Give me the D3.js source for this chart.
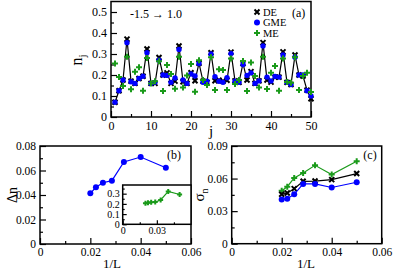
<!DOCTYPE html>
<html>
<head>
<meta charset="utf-8">
<script src="https://cdn.jsdelivr.net/npm/d3@7"></script>
<style>
  body { margin: 0; background: #fff; }
  svg { display: block; font-family: "Liberation Serif", "DejaVu Serif", serif; }
</style>
</head>
<body>
<svg id="chart" width="395" height="271"></svg>
<script>
"use strict";

/********/
/* data */
/********/

const sites = d3.range(1, 51);

const deValues = [
  0.07, 0.125, 0.176, 0.371, 0.171, 0.16, 0.183, 0.194, 0.324, 0.16,
  0.16, 0.283, 0.2, 0.21, 0.16, 0.171, 0.338, 0.168, 0.16, 0.211,
  0.173, 0.256, 0.17, 0.165, 0.306, 0.173, 0.175, 0.17, 0.175, 0.309,
  0.172, 0.165, 0.255, 0.176, 0.216, 0.16, 0.172, 0.354, 0.176, 0.166,
  0.19, 0.19, 0.31, 0.165, 0.155, 0.295, 0.2, 0.195, 0.128, 0.087,
];

const gmeValues = [
  0.07, 0.125, 0.176, 0.354, 0.168, 0.16, 0.183, 0.194, 0.306, 0.16,
  0.165, 0.27, 0.2, 0.198, 0.165, 0.186, 0.322, 0.176, 0.16, 0.205,
  0.195, 0.255, 0.165, 0.17, 0.3, 0.192, 0.17, 0.165, 0.187, 0.302,
  0.17, 0.165, 0.25, 0.198, 0.21, 0.16, 0.172, 0.338, 0.19, 0.172,
  0.193, 0.19, 0.295, 0.165, 0.155, 0.285, 0.2, 0.2, 0.125, 0.1,
];

const meValues = [
  0.255, 0.19, 0.148, 0.287, 0.132, 0.216, 0.237, 0.125, 0.281, 0.16,
  0.17, 0.265, 0.124, 0.248, 0.205, 0.135, 0.287, 0.14, 0.198, 0.252,
  0.12, 0.27, 0.176, 0.152, 0.284, 0.128, 0.227, 0.224, 0.128, 0.279,
  0.157, 0.176, 0.267, 0.124, 0.259, 0.195, 0.141, 0.287, 0.133, 0.211,
  0.243, 0.125, 0.278, 0.167, 0.163, 0.284, 0.128, 0.195, 0.211, 0.119,
];

const inverseL = [1 / 50, 1 / 45, 1 / 40, 1 / 35, 1 / 30, 1 / 25, 1 / 20];

const deltaN = [0.0414, 0.0463, 0.05, 0.0517, 0.067, 0.071, 0.0623];
const deltaNInset = [0.205, 0.21, 0.215, 0.218, 0.238, 0.322, 0.292];

const sigmaDE = [0.0455, 0.0467, 0.0507, 0.0575, 0.0577, 0.059, 0.0646];
const sigmaGME = [0.0408, 0.0415, 0.0455, 0.0551, 0.0551, 0.0518, 0.0566];
const sigmaME = [0.0487, 0.0525, 0.0606, 0.0652, 0.0722, 0.0637, 0.0759];

const legendLabels = ["DE", "GME", "ME"];

/********/
/* view */
/********/

const svg = d3.select("#chart");
const black = "#000000";
const blue = "#0000ff";
const green = "#1a9a1a";

function drawTicks(g, x, y, opts) {
  const xMajor = d3
    .axisBottom(x)
    .tickValues(opts.xMajor)
    .tickSize(-opts.major)
    .tickPadding(opts.pad)
    .tickFormat(opts.xFormat);
  const xMinor = d3
    .axisBottom(x)
    .tickValues(opts.xMinor)
    .tickSize(-opts.minor)
    .tickFormat("");
  const yMajor = d3
    .axisLeft(y)
    .tickValues(opts.yMajor)
    .tickSize(-opts.major)
    .tickPadding(opts.pad)
    .tickFormat(opts.yFormat);
  const yMinor = d3
    .axisLeft(y)
    .tickValues(opts.yMinor)
    .tickSize(-opts.minor)
    .tickFormat("");

  const bottom = y.range()[0];
  const left = x.range()[0];

  [xMinor, xMajor].forEach(axis => {
    g.append("g")
      .attr("transform", `translate(0,${bottom})`)
      .call(axis)
      .call(a => a.select(".domain").remove());
  });
  [yMinor, yMajor].forEach(axis => {
    g.append("g")
      .attr("transform", `translate(${left},0)`)
      .call(axis)
      .call(a => a.select(".domain").remove());
  });

  g.selectAll(".tick line").attr("stroke", black).attr("stroke-width", 1.2);
  g.selectAll(".tick text")
    .attr("font-family", "Liberation Serif, serif")
    .attr("font-size", opts.fontSize)
    .attr("fill", black);

  g.append("rect")
    .attr("x", x.range()[0])
    .attr("y", y.range()[1])
    .attr("width", x.range()[1] - x.range()[0])
    .attr("height", y.range()[0] - y.range()[1])
    .attr("fill", "none")
    .attr("stroke", black)
    .attr("stroke-width", 1.5);
}

function crossMark(g, cx, cy, size, colour) {
  const s = size / 2;
  g.append("path")
    .attr("d", `M${cx - s},${cy - s}L${cx + s},${cy + s}M${cx - s},${cy + s}L${cx + s},${cy - s}`)
    .attr("stroke", colour)
    .attr("stroke-width", 2);
}

function plusMark(g, cx, cy, size, colour) {
  const s = size / 2;
  g.append("path")
    .attr("d", `M${cx - s},${cy}L${cx + s},${cy}M${cx},${cy - s}L${cx},${cy + s}`)
    .attr("stroke", colour)
    .attr("stroke-width", 2);
}

function dotMark(g, cx, cy, r, colour) {
  g.append("circle").attr("cx", cx).attr("cy", cy).attr("r", r).attr("fill", colour);
}

function series(g, x, y, xs, ys, colour, mark, size, withLine) {
  if (withLine) {
    g.append("path")
      .datum(xs.map((v, i) => [v, ys[i]]))
      .attr("fill", "none")
      .attr("stroke", colour)
      .attr("stroke-width", 1.2)
      .attr("d", d3.line().x(d => x(d[0])).y(d => y(d[1])));
  }
  xs.forEach((v, i) => mark(g, x(v), y(ys[i]), size, colour));
}

/* panel (a) */

function panelA() {
  const g = svg.append("g");
  const x = d3.scaleLinear().domain([0, 50]).range([111, 311]);
  const y = d3.scaleLinear().domain([0, 0.55]).range([117, 1.5]);

  drawTicks(g, x, y, {
    xMajor: d3.range(0, 51, 10),
    xMinor: d3.range(5, 50, 10),
    yMajor: d3.range(0, 0.51, 0.1),
    yMinor: d3.range(0.05, 0.55, 0.1),
    xFormat: d3.format("d"),
    yFormat: v => (v === 0 ? "0" : d3.format(".1f")(v)),
    major: 6,
    minor: 3,
    pad: 4,
    fontSize: 12,
  });

  series(g, x, y, sites, deValues, black, crossMark, 5, true);
  series(g, x, y, sites, gmeValues, blue, dotMark, 2.7, false);
  series(g, x, y, sites, meValues, green, plusMark, 6, false);

  const ny = g.append("text")
    .attr("transform", "translate(82,60) rotate(-90)")
    .attr("text-anchor", "middle")
    .attr("font-size", 16);
  ny.append("tspan").text("n");
  ny.append("tspan").attr("font-size", 11).attr("dy", 4).text("j");

  g.append("text")
    .attr("x", 211)
    .attr("y", 136)
    .attr("text-anchor", "middle")
    .attr("font-size", 15)
    .text("j");

  g.append("text")
    .attr("x", 130)
    .attr("y", 18)
    .attr("font-size", 12)
    .text("-1.5 \u2192 1.0");

  g.append("text")
    .attr("x", 292)
    .attr("y", 17)
    .attr("font-size", 12)
    .text("(a)");

  const marks = [
    (cx, cy) => crossMark(g, cx, cy, 5, black),
    (cx, cy) => dotMark(g, cx, cy, 3, blue),
    (cx, cy) => plusMark(g, cx, cy, 6, green),
  ];
  legendLabels.forEach((label, i) => {
    const cy = 12 + i * 10.5;
    marks[i](257, cy);
    g.append("text")
      .attr("x", 263)
      .attr("y", cy + 3.5)
      .attr("font-size", 10.5)
      .text(label);
  });
}

/* panel (b) */

function panelB() {
  const g = svg.append("g");
  const x = d3.scaleLinear().domain([0, 0.06]).range([40, 191]);
  const y = d3.scaleLinear().domain([0, 0.08]).range([244, 146]);

  drawTicks(g, x, y, {
    xMajor: [0, 0.02, 0.04, 0.06],
    xMinor: [0.01, 0.03, 0.05],
    yMajor: [0, 0.02, 0.04, 0.06, 0.08],
    yMinor: [0.01, 0.03, 0.05, 0.07],
    xFormat: v => (v === 0 ? "0" : d3.format(".2f")(v)),
    yFormat: v => (v === 0 ? "0" : d3.format(".2f")(v)),
    major: 6,
    minor: 3,
    pad: 4,
    fontSize: 11.5,
  });

  series(g, x, y, inverseL, deltaN, blue, dotMark, 3, true);

  g.append("text")
    .attr("transform", "translate(17,195) rotate(-90)")
    .attr("text-anchor", "middle")
    .attr("font-size", 14)
    .text("\u0394n");

  g.append("text")
    .attr("x", 112)
    .attr("y", 268)
    .attr("text-anchor", "middle")
    .attr("font-size", 13)
    .text("1/L");

  g.append("text")
    .attr("x", 174)
    .attr("y", 159)
    .attr("text-anchor", "middle")
    .attr("font-size", 12)
    .text("(b)");

  /* inset */
  const ig = svg.append("g");
  const ix = d3.scaleLinear().domain([0, 0.06]).range([122.7, 191]);
  const iy = d3.scaleLinear().domain([0, 0.385]).range([224.3, 185]);

  ig.append("rect")
    .attr("x", ix.range()[0])
    .attr("y", iy.range()[1])
    .attr("width", ix.range()[1] - ix.range()[0])
    .attr("height", iy.range()[0] - iy.range()[1])
    .attr("fill", "#fff");

  drawTicks(ig, ix, iy, {
    xMajor: [0, 0.03],
    xMinor: [0.015, 0.045],
    yMajor: [0, 0.1, 0.2, 0.3],
    yMinor: [0.05, 0.15, 0.25, 0.35],
    xFormat: v => (v === 0 ? "0" : d3.format(".2f")(v)),
    yFormat: v => (v === 0 ? "0" : d3.format(".1f")(v)),
    major: 4,
    minor: 2,
    pad: 3,
    fontSize: 10,
  });

  series(ig, ix, iy, inverseL, deltaNInset, green, plusMark, 5, true);
}

/* panel (c) */

function panelC() {
  const g = svg.append("g");
  const x = d3.scaleLinear().domain([0, 0.06]).range([231.7, 381.7]);
  const y = d3.scaleLinear().domain([0, 0.09]).range([243.7, 146]);

  drawTicks(g, x, y, {
    xMajor: [0, 0.02, 0.04, 0.06],
    xMinor: [0.01, 0.03, 0.05],
    yMajor: [0, 0.03, 0.06, 0.09],
    yMinor: [0.015, 0.045, 0.075],
    xFormat: v => (v === 0 ? "0" : d3.format(".2f")(v)),
    yFormat: v => (v === 0 ? "0" : d3.format(".2f")(v)),
    major: 6,
    minor: 3,
    pad: 4,
    fontSize: 11.5,
  });

  series(g, x, y, inverseL, sigmaME, green, plusMark, 6, true);
  series(g, x, y, inverseL, sigmaDE, black, crossMark, 5, true);
  series(g, x, y, inverseL, sigmaGME, blue, dotMark, 3, true);

  const sy = g.append("text")
    .attr("transform", "translate(204,195) rotate(-90)")
    .attr("text-anchor", "middle")
    .attr("font-size", 15);
  sy.append("tspan").text("\u03c3");
  sy.append("tspan").attr("font-size", 10).attr("dy", 4).text("n");

  g.append("text")
    .attr("x", 306)
    .attr("y", 268)
    .attr("text-anchor", "middle")
    .attr("font-size", 13)
    .text("1/L");

  g.append("text")
    .attr("x", 370)
    .attr("y", 159)
    .attr("text-anchor", "middle")
    .attr("font-size", 12)
    .text("(c)");
}

/********/
/* init */
/********/

panelA();
panelB();
panelC();
</script>
</body>
</html>
